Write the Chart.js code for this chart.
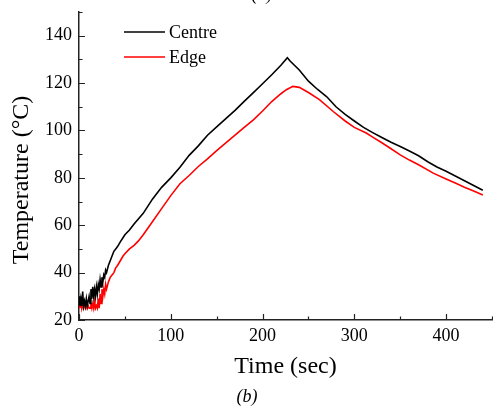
<!DOCTYPE html>
<html>
<head>
<meta charset="utf-8">
<script src="https://cdn.jsdelivr.net/npm/chart.js@4/dist/chart.umd.min.js"></script>
<style>
  html, body { margin: 0; padding: 0; background: #fff; }
  #wrap { width: 493px; height: 412px; }
</style>
</head>
<body>
<div id="wrap"><canvas id="temp-chart"></canvas></div>
<script>
// time (sec) / temperature (°C)
var centreTime = [0,1,2,3,4,5,6,7,8,9,10,11,12,13,14,15,16,17,18,19,20,21,22,23,24,25,26,27,28,29,30,32,34,36,38,40,42,45,50,55,60,70,80,90,100,110,120,130,140,150,160,170,180,190,200,210,220,227,230,240,250,260,270,280,290,300,310,320,330,340,350,360,370,380,390,400,410,420,430,440];
var centreTemp = [30,26,29,26,32,26,28,26,29,26,28,30,27,33,29,34,30,33,30,34,31,35,33,37,34,38,36,39,38,41,40,43,45,47,49,50,51,53,56,58,60.5,65,71,76,80,84.5,89.5,93.5,98,101.5,105,108.5,112.3,116,119.7,123.5,127.5,130.7,129.3,125.5,120.8,117.3,114.2,110,106.8,104,101.3,99.1,97,95,93.2,91.3,89.3,86.8,84.6,82.8,80.8,78.8,76.8,74.8];

var edgeTime = [0,1,2,3,4,5,6,7,8,9,10,11,12,13,14,15,16,17,18,19,20,21,22,23,24,25,26,27,28,29,30,32,34,36,38,40,42,45,48,50,55,60,65,70,80,90,100,110,120,130,140,150,160,170,180,190,200,210,220,226,233,240,250,262,277,290,300,313,320,330,340,350,360,370,386,400,410,420,430,440];
var edgeTemp = [27,25,28,25,27,25,26,25,27,25,26,25,25,27,25,27,25,28,25,26,25,29,25,31,27,33,30,33,31,35,33,36,38,39,40,42,43,45,47,48,50,51.5,53.5,56,61.5,67,72.5,77.5,81,84.8,88,91.5,94.8,98,101.3,104.5,108.2,112.2,115.5,117.2,118.6,118.2,116,113,108,104,101.3,98.9,97.2,94.8,92.3,89.7,87.5,85.5,82,79.5,77.8,76,74.4,72.8];

var xTicks = [0, 100, 200, 300, 400];
var yTicks = [20, 40, 60, 80, 100, 120, 140];

function toPoints(xs, ys) {
    return xs.map(function (x, i) { return {x: x, y: ys[i]}; });
}

var serif = "'Liberation Serif', 'Times New Roman', serif";

// inward ticks, y title, legend and panel captions
var decorPlugin = {
    id: 'decor',
    afterDraw: function (chart) {
        var ctx = chart.ctx;
        var xs = chart.scales.x, ys = chart.scales.y;
        var area = chart.chartArea;
        ctx.save();
        ctx.strokeStyle = '#222';
        ctx.lineWidth = 1.2;
        ctx.beginPath();
        for (var v = 0; v <= 450; v += 50) {
            var px = Math.round(xs.getPixelForValue(v)) + 0.5;
            var len = (v % 100 === 0) ? 6 : 3.5;
            ctx.moveTo(px, area.bottom);
            ctx.lineTo(px, area.bottom - len);
        }
        for (var t = 20; t <= 150; t += 10) {
            var py = Math.round(ys.getPixelForValue(t)) + 0.5;
            var l2 = (t % 20 === 0) ? 6 : 3.5;
            ctx.moveTo(area.left, py);
            ctx.lineTo(area.left + l2, py);
        }
        ctx.stroke();

        // y axis title
        ctx.save();
        ctx.translate(22, 180);
        ctx.rotate(-Math.PI / 2);
        ctx.font = '24px ' + serif;
        ctx.fillStyle = '#000';
        ctx.textAlign = 'center';
        ctx.textBaseline = 'middle';
        ctx.fillText('Temperature (°C)', 0, 0);
        ctx.restore();

        // legend
        var items = [['Centre', '#000000', 32], ['Edge', '#ff0000', 57]];
        ctx.font = '18px ' + serif;
        ctx.textBaseline = 'middle';
        ctx.textAlign = 'left';
        items.forEach(function (it) {
            ctx.strokeStyle = it[1];
            ctx.lineWidth = 1.5;
            ctx.beginPath();
            ctx.moveTo(124, it[2]);
            ctx.lineTo(165, it[2]);
            ctx.stroke();
            ctx.fillStyle = '#000';
            ctx.fillText(it[0], 169, it[2] + 1);
        });

        // captions
        ctx.textAlign = 'center';
        ctx.font = 'italic 18px ' + serif;
        ctx.fillText('(b)', 247, 397);
        ctx.textBaseline = 'alphabetic';
        ctx.fillText('(a)', 262, 0);
        ctx.restore();
    }
};

var chart = new Chart(document.getElementById('temp-chart'), {
    type: 'line',
    data: {
        datasets: [
            {
                label: 'Centre',
                data: toPoints(centreTime, centreTemp),
                borderColor: '#000000',
                borderWidth: 1.6,
                pointRadius: 0,
                tension: 0,
                fill: false
            },
            {
                label: 'Edge',
                data: toPoints(edgeTime, edgeTemp),
                borderColor: '#ff0000',
                borderWidth: 1.6,
                pointRadius: 0,
                tension: 0,
                fill: false
            }
        ]
    },
    options: {
        responsive: true,
        maintainAspectRatio: false,
        animation: false,
        layout: { padding: { top: 12, right: 1, left: 0, bottom: 0 } },
        plugins: {
            legend: { display: false },
            tooltip: { enabled: false }
        },
        scales: {
            x: {
                type: 'linear',
                min: 0,
                max: 450,
                afterFit: function (s) {
                    s.height = 92;
                    s.paddingLeft = 0;
                    s.paddingRight = 0;
                },
                afterBuildTicks: function (s) {
                    s.ticks = xTicks.map(function (v) { return {value: v}; });
                },
                grid: { display: false, drawTicks: false },
                border: { display: true, color: '#222', width: 1.5 },
                ticks: {
                    color: '#000',
                    padding: 5,
                    maxRotation: 0,
                    font: { family: serif, size: 18 }
                },
                title: {
                    display: true,
                    text: 'Time (sec)',
                    color: '#000',
                    font: { family: serif, size: 24 },
                    padding: { top: 0, bottom: 31 }
                }
            },
            y: {
                type: 'linear',
                min: 20,
                max: 150,
                afterFit: function (s) {
                    s.width = 79;
                    s.paddingTop = 0;
                    s.paddingBottom = 0;
                },
                afterBuildTicks: function (s) {
                    s.ticks = yTicks.map(function (v) { return {value: v}; });
                },
                grid: { display: false, drawTicks: false },
                border: { display: true, color: '#222', width: 1.5 },
                ticks: {
                    color: '#000',
                    padding: 7,
                    font: { family: serif, size: 18 }
                }
            }
        }
    },
    plugins: [decorPlugin]
});
</script>
</body>
</html>
